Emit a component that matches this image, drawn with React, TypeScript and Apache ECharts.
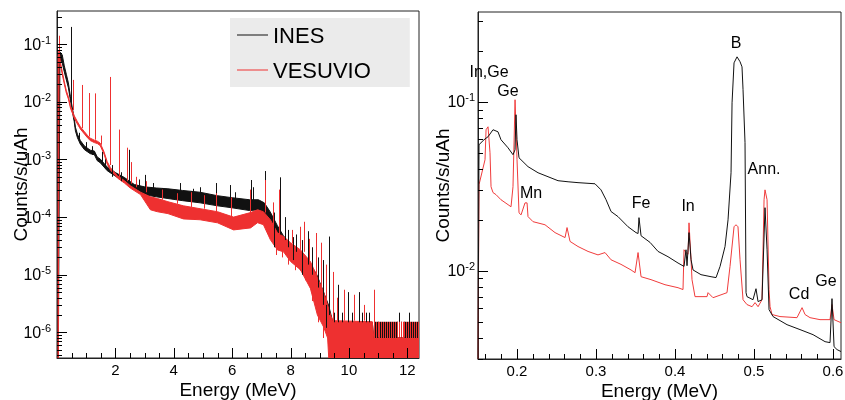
import React, { useEffect, useRef } from "react";
import * as echarts from "echarts";

const FONT = '"Liberation Sans", Arial, Helvetica, sans-serif';
const BLACK = "#111111";
const RED = "#ee3030";
const RED_THIN = "#f03c3c";

// ---------------- Left panel (0 - 12.4 MeV): noisy spectra as envelope bands + spikes
const inesBandE = [0.04, 0.1, 0.18, 0.25, 0.32, 0.39, 0.46, 0.52, 0.59, 0.63, 0.7, 0.8, 0.94, 1.14, 1.28, 1.38, 1.48, 1.72, 2.0, 2.31, 2.65, 3.0, 3.4, 3.8, 4.3, 4.9, 5.5, 6.0, 6.6, 6.9, 7.1, 7.3, 7.55, 7.75, 8.0, 8.3, 8.6, 8.9, 9.1, 9.3, 9.45, 10.8, 10.85, 12.4];
const inesBandHi = [0.05, 0.073, 0.065, 0.042, 0.03, 0.0213, 0.0123, 0.0081, 0.00522, 0.00364, 0.00275, 0.00213, 0.00171, 0.00145, 0.0014, 0.0011, 0.00102, 0.000738, 0.000593, 0.000486, 0.000367, 0.000335, 0.00032, 0.00031, 0.00029, 0.00027, 0.000235, 0.000217, 0.0002, 0.0002, 0.000177, 0.000124, 7.1e-5, 4.8e-5, 3.3e-5, 2.5e-5, 1.8e-5, 1e-5, 5.5e-6, 3e-6, 1.5e-6, 1.5e-6, 8e-7, 8e-7];
const inesBandLo = [1e-7, 0.053, 0.047, 0.033, 0.024, 0.0175, 0.01066, 0.00702, 0.00452, 0.00315, 0.00239, 0.00184, 0.00148, 0.00126, 0.00121, 0.00095, 0.00088, 0.000639, 0.000514, 0.000421, 0.000318, 0.000244, 0.000225, 0.00021, 0.000193, 0.000177, 0.000157, 0.000145, 0.00013, 0.000134, 0.000117, 7.1e-5, 4.4e-5, 3e-5, 2e-5, 1.3e-5, 8.2e-6, 3e-6, 1.66e-6, 1.1e-6, 1e-7, 1e-7, 1e-7, 1e-7];

const vesBandE = [0.04, 0.07, 0.113, 0.18, 0.25, 0.32, 0.39, 0.46, 0.59, 0.7, 0.8, 0.94, 1.04, 1.14, 1.28, 1.38, 1.48, 1.61, 1.72, 1.83, 2.07, 2.31, 2.51, 2.86, 3.2, 3.44, 3.8, 4.33, 4.9, 5.5, 6.05, 6.63, 6.87, 7.07, 7.31, 7.55, 7.76, 8.0, 8.34, 8.68, 8.92, 9.13, 9.27, 9.37, 9.45, 10.8, 10.85, 12.4];
const vesBandHi = [0.06, 0.079, 0.0495, 0.0333, 0.0223, 0.0156, 0.0123, 0.00857, 0.00575, 0.00452, 0.0037, 0.00303, 0.00263, 0.00234, 0.00216, 0.00208, 0.00192, 0.00136, 0.000916, 0.000721, 0.000523, 0.000429, 0.000351, 0.000271, 0.000225, 0.00021, 0.000185, 0.000157, 0.00014, 0.000124, 0.0001, 0.00012, 0.000134, 0.000124, 9e-5, 5.35e-5, 4.6e-5, 3.6e-5, 2.7e-5, 1.7e-5, 9e-6, 5e-6, 3e-6, 2e-6, 1.6e-6, 1.53e-6, 8.1e-7, 8.1e-7];
const vesBandLo = [1e-7, 0.053, 0.045, 0.0302, 0.0203, 0.0142, 0.0112, 0.00779, 0.00522, 0.00411, 0.00337, 0.00276, 0.00239, 0.00213, 0.00196, 0.00189, 0.00174, 0.00124, 0.000832, 0.000655, 0.000476, 0.00039, 0.000319, 0.000246, 0.000134, 0.000124, 0.000115, 9.3e-5, 9e-5, 7.96e-5, 6e-5, 6.5e-5, 8e-5, 7.4e-5, 4.05e-5, 2.7e-5, 2.5e-5, 1.7e-5, 1.22e-5, 5.8e-6, 2e-6, 1.25e-6, 8e-7, 1e-7, 1e-7, 1e-7, 1e-7, 1e-7];

// spikes / noise hairs: [energy, from, to]
const inesSpikes: [number, number, number][] = [
  [0.49, 0.009, 0.199], [0.75, 0.0021, 0.0029], [1.0, 0.0014, 0.002], [1.2, 0.0012, 0.0017], [1.55, 0.0009, 0.00135],
  [1.65, 0.0007, 0.001], [1.9, 0.0005, 0.0008], [2.2, 0.00042, 0.0006], [2.48, 0.00038, 0.00147], [2.8, 0.0003, 0.00045],
  [3.03, 0.00028, 0.00054], [3.3, 0.00025, 0.00039], [3.6, 0.00024, 0.00032], [4.23, 0.00022, 0.00039], [4.67, 0.0002, 0.00031],
  [4.91, 0.0002, 0.00033], [5.43, 0.00018, 0.00039], [5.94, 0.00016, 0.00036], [6.1, 0.00015, 0.00027],
  [6.63, 0.00014, 0.00044], [6.73, 0.00014, 0.00033], [7.14, 0.00012, 0.00063], [7.45, 3e-5, 0.00012], [7.65, 5e-5, 0.00049],
  [7.8, 4e-5, 0.0001], [7.9, 2e-5, 6e-5], [8.1, 1.8e-5, 4.5e-5], [8.2, 2.5e-5, 5e-5], [8.4, 1e-5, 4e-5], [8.6, 1.5e-5, 5.7e-5],
  [8.75, 6e-6, 3e-5], [8.95, 2.5e-6, 2e-5], [9.1, 3e-6, 1.8e-5], [9.2, 1.2e-6, 8e-6], [9.3, 2e-6, 4.6e-5],
  [9.5, 1.5e-6, 2.2e-6], [9.64, 1.5e-6, 6.7e-6], [9.75, 1.5e-6, 2.2e-6], [9.98, 1.5e-6, 5e-6], [10.1, 1.5e-6, 2.2e-6],
  [10.33, 1.5e-6, 5e-6], [10.45, 1.5e-6, 2.2e-6], [10.6, 1.5e-6, 2.2e-6], [10.7, 1.5e-6, 2.2e-6],
  [10.89, 8e-7, 1.53e-6], [10.95, 8e-7, 1.53e-6], [11.01, 8e-7, 1.53e-6], [11.07, 8e-7, 1.53e-6], [11.13, 8e-7, 1.53e-6],
  [11.2, 8e-7, 1.53e-6], [11.26, 8e-7, 1.53e-6], [11.33, 8e-7, 1.53e-6], [11.4, 8e-7, 1.53e-6], [11.46, 8e-7, 1.53e-6],
  [11.53, 8e-7, 1.53e-6], [11.6, 8e-7, 1.53e-6], [11.66, 8e-7, 1.53e-6], [11.73, 8e-7, 2.2e-6], [11.8, 8e-7, 1.53e-6],
  [11.87, 8e-7, 1.53e-6], [11.93, 8e-7, 1.53e-6], [12.0, 8e-7, 1.53e-6], [12.07, 8e-7, 2.2e-6], [12.14, 8e-7, 1.53e-6],
  [12.2, 8e-7, 1.53e-6], [12.27, 8e-7, 1.53e-6], [12.34, 8e-7, 1.53e-6],
];
const vesSpikes: [number, number, number][] = [
  [0.06, 0.06, 0.14], [0.56, 0.0072, 0.024], [0.87, 0.0035, 0.0196], [1.11, 0.0025, 0.0142], [1.31, 0.0022, 0.014],
  [1.52, 0.0018, 0.0026], [1.8, 0.0008, 0.027], [2.14, 0.0005, 0.0033], [2.41, 0.00042, 0.0016], [2.55, 0.00038, 0.0009],
  [2.7, 0.00033, 0.0005], [3.05, 0.00027, 0.00042], [3.6, 0.0002, 0.0003], [4.1, 0.00017, 0.00026], [4.6, 0.00015, 0.00027],
  [5.05, 0.00014, 0.00024], [5.45, 0.00012, 0.00026], [5.95, 0.0001, 0.00022], [6.6, 0.00011, 0.0003], [7.12, 0.00012, 0.00044],
  [7.4, 7e-5, 0.00018], [7.5, 2.2e-5, 5e-5], [7.62, 5e-5, 0.0003], [7.7, 2e-5, 4e-5], [7.9, 1.5e-5, 3e-5], [8.05, 3.5e-5, 6e-5],
  [8.15, 1.2e-5, 3e-5], [8.34, 2.7e-5, 6.8e-5], [8.45, 2.5e-5, 8.3e-5], [8.5, 8e-6, 2e-5], [8.62, 1.8e-5, 4.2e-5],
  [8.75, 3.5e-6, 1e-5], [8.86, 1e-5, 5.3e-5], [8.95, 1.5e-6, 6e-6], [9.03, 6e-6, 3.6e-5], [9.1, 8e-7, 3e-6],
  [9.2, 3e-6, 1.5e-5], [9.45, 1.6e-6, 1.12e-5],
  [9.6, 1.6e-6, 4e-6], [9.82, 1.6e-6, 5.5e-6], [10.18, 1.6e-6, 4.5e-6], [10.5, 1.6e-6, 3e-6], [10.85, 8e-7, 5.5e-6],
  [10.92, 8.1e-7, 1.53e-6], [10.98, 8.1e-7, 1.53e-6], [11.04, 8.1e-7, 1.53e-6], [11.1, 8.1e-7, 1.53e-6], [11.17, 8.1e-7, 1.53e-6],
  [11.23, 8.1e-7, 1.53e-6], [11.3, 8.1e-7, 1.53e-6], [11.36, 8.1e-7, 1.53e-6], [11.43, 8.1e-7, 1.53e-6], [11.5, 8.1e-7, 1.53e-6],
  [11.57, 8.1e-7, 1.53e-6], [11.63, 8.1e-7, 1.53e-6], [11.7, 8.1e-7, 1.53e-6], [11.77, 8.1e-7, 1.53e-6], [11.84, 8.1e-7, 1.53e-6],
  [11.9, 8.1e-7, 1.53e-6], [11.97, 8.1e-7, 1.53e-6], [12.04, 8.1e-7, 1.53e-6], [12.1, 8.1e-7, 1.53e-6], [12.17, 8.1e-7, 1.53e-6],
  [12.24, 8.1e-7, 1.53e-6], [12.3, 8.1e-7, 1.53e-6], [12.37, 8.1e-7, 1.53e-6],
];

// ---------------- Right panel (0.15 - 0.61 MeV)
const inesZoom: [number, number][] = [
  [0.1506, 0.003], [0.1519, 0.0557], [0.1582, 0.0596], [0.1633, 0.0621], [0.1696, 0.0683], [0.1759, 0.0664],
  [0.1797, 0.0596], [0.1886, 0.0534], [0.1949, 0.0486], [0.1975, 0.052], [0.1987, 0.0838], [0.2, 0.0596],
  [0.2025, 0.0466], [0.2139, 0.0413], [0.2266, 0.038], [0.2392, 0.036], [0.2519, 0.0341], [0.2646, 0.0336],
  [0.2772, 0.0332], [0.2987, 0.0327], [0.3063, 0.0301], [0.3127, 0.0263], [0.319, 0.0224], [0.3278, 0.0209],
  [0.3405, 0.0182], [0.3506, 0.0168], [0.3532, 0.0166], [0.3544, 0.0206], [0.357, 0.0161], [0.3684, 0.0147],
  [0.3785, 0.013], [0.3911, 0.0121], [0.4038, 0.0111], [0.4114, 0.0106], [0.4139, 0.0133], [0.4152, 0.0107],
  [0.4177, 0.0168], [0.4203, 0.0116], [0.4228, 0.0101], [0.4329, 0.00947], [0.4456, 0.00921], [0.4519, 0.0091],
  [0.457, 0.0106], [0.4633, 0.0139], [0.4671, 0.02], [0.4709, 0.038], [0.4722, 0.0986], [0.4747, 0.17],
  [0.4785, 0.1845], [0.4823, 0.1726], [0.4848, 0.161], [0.4861, 0.1178], [0.4886, 0.0572], [0.4899, 0.00741],
  [0.4911, 0.00702], [0.4987, 0.00673], [0.5025, 0.00782], [0.5051, 0.00656], [0.5101, 0.00673], [0.5139, 0.0236],
  [0.5165, 0.0133], [0.519, 0.00588], [0.5241, 0.00535], [0.5418, 0.00479], [0.5582, 0.00448], [0.5747, 0.00418],
  [0.5899, 0.0038], [0.5962, 0.00375], [0.5987, 0.00683], [0.6013, 0.00355], [0.6051, 0.00341], [0.6101, 0.00332],
];
const vesZoom: [number, number][] = [
  [0.1506, 0.003], [0.1519, 0.0323], [0.1595, 0.0454], [0.1608, 0.0683], [0.1633, 0.0711], [0.1658, 0.0499],
  [0.1671, 0.0314], [0.1696, 0.029], [0.1734, 0.0282], [0.1797, 0.0263], [0.1886, 0.0246], [0.1924, 0.0239],
  [0.1949, 0.0314], [0.1975, 0.1028], [0.2, 0.0454], [0.2025, 0.022], [0.2051, 0.0214], [0.2101, 0.0252],
  [0.2127, 0.0252], [0.2139, 0.0209], [0.2203, 0.0195], [0.2354, 0.0187], [0.2481, 0.0168], [0.2608, 0.0157],
  [0.2633, 0.018], [0.2671, 0.0149], [0.2772, 0.0139], [0.2899, 0.013], [0.3025, 0.0124], [0.3114, 0.0128],
  [0.319, 0.0116], [0.3316, 0.0109], [0.3443, 0.0101], [0.3494, 0.00973], [0.3532, 0.0128], [0.357, 0.00921],
  [0.3696, 0.00885], [0.3873, 0.00826], [0.4038, 0.00793], [0.4101, 0.00773], [0.4114, 0.0133], [0.4139, 0.0128],
  [0.4165, 0.0125], [0.4177, 0.0192], [0.4203, 0.0116], [0.4215, 0.00885], [0.4253, 0.00702], [0.4405, 0.00702],
  [0.4418, 0.00741], [0.4481, 0.00692], [0.4658, 0.00741], [0.4696, 0.0106], [0.4747, 0.0182], [0.4772, 0.0187],
  [0.4797, 0.0182], [0.4823, 0.0116], [0.4861, 0.00673], [0.4911, 0.0063], [0.4975, 0.00612], [0.5013, 0.00647],
  [0.5051, 0.00612], [0.5101, 0.00673], [0.5127, 0.0263], [0.5139, 0.0301], [0.5165, 0.0263], [0.519, 0.00773],
  [0.5203, 0.00612], [0.5228, 0.0055], [0.5329, 0.00535], [0.5544, 0.00527], [0.5608, 0.00604], [0.5646, 0.0055],
  [0.5709, 0.00527], [0.5835, 0.00513], [0.5962, 0.00513], [0.5987, 0.0063], [0.6013, 0.00513], [0.6101, 0.00492],
];

const annotLabels = ["In,Ge", "Ge", "Mn", "Fe", "In", "B", "Ann.", "Cd", "Ge"];
const annotE = [0.1646, 0.1886, 0.2177, 0.357, 0.4165, 0.4772, 0.5127, 0.557, 0.5911];
const annotV = [0.152, 0.116, 0.029, 0.0252, 0.0243, 0.2234, 0.0402, 0.00731, 0.00873];

// ---------------- Axes ticks / labels
const leftXTicks = [2, 4, 6, 8, 10, 12];
const leftXMinor = [0.5, 1, 1.5, 2.5, 3, 3.5, 4.5, 5, 5.5, 6.5, 7, 7.5, 8.5, 9, 9.5, 10.5, 11, 11.5];
const leftYDecades = [1e-6, 1e-5, 1e-4, 1e-3, 1e-2, 1e-1];
const rightXTicks = [0.2, 0.3, 0.4, 0.5, 0.6];
const rightXMinor = [0.16, 0.18, 0.22, 0.24, 0.26, 0.28, 0.32, 0.34, 0.36, 0.38, 0.42, 0.44, 0.46, 0.48, 0.52, 0.54, 0.56, 0.58];
const rightYDecades = [1e-2, 1e-1];
const minorMultipliers = [2, 3, 4, 5, 6, 7, 8, 9];

const LEFT_X = [0, 12.4];
const LEFT_Y = [3.6e-7, 0.376];
const RIGHT_X = [0.1506, 0.6101];
const RIGHT_Y = [0.003, 0.34];

function logMinor(decades: number[], lo: number, hi: number) {
  const base = [decades[0] / 10, ...decades];
  const out: number[] = [];
  base.forEach((d) => minorMultipliers.forEach((m) => {
    const v = m * d;
    if (v >= lo && v <= hi) out.push(v);
  }));
  return out;
}

const powLabel = (v: number) => `{b|10}{s|${Math.round(Math.log10(v))}}`;
const powRich = {
  b: { fontSize: 16, lineHeight: 20, color: "#000", fontFamily: FONT },
  s: { fontSize: 11, lineHeight: 11, verticalAlign: "top", color: "#000", fontFamily: FONT },
};

const axisColor = "#222";
const TICK_COLOR = "#000000";

function bandSeries(name: string, xs: number[], hi: number[], lo: number[], color: string, gi: number) {
  return {
    type: "custom", name, xAxisIndex: gi, yAxisIndex: gi, clip: true, silent: true,
    data: [[xs[1], hi[1]]], encode: { x: 0, y: 1 },
    renderItem: (_p: any, api: any) => {
      const top = xs.map((e, i) => api.coord([e, hi[i]]));
      const bot = xs.map((e, i) => api.coord([e, lo[i]])).reverse();
      return {
        type: "polygon",
        shape: { points: top.concat(bot) },
        style: { fill: color, stroke: color, lineWidth: 1 },
      };
    },
  };
}

function spikeSeries(name: string, data: [number, number, number][], color: string, gi: number) {
  return {
    type: "custom", name, xAxisIndex: gi, yAxisIndex: gi, clip: true, silent: true,
    data, encode: { x: 0, y: [1, 2] },
    renderItem: (_p: any, api: any) => {
      const a = api.coord([api.value(0), api.value(1)]);
      const b = api.coord([api.value(0), api.value(2)]);
      const x = Math.round(a[0]) + 0.5;
      return { type: "line", shape: { x1: x, y1: a[1], x2: x, y2: b[1] }, style: { stroke: color, lineWidth: 1 } };
    },
  };
}

// inward ticks of one frame drawn as thin rects (one item), placed through the axes' own scales
function frameTicks(name: string, gi: number, xr: number[], yr: number[], xMaj: number[], xMin: number[], yMaj: number[], yMin: number[]) {
  const midX = (xr[0] + xr[1]) / 2;
  const midY = Math.sqrt(yr[0] * yr[1]);
  return {
    type: "custom", name, xAxisIndex: gi, yAxisIndex: gi, clip: false, silent: true, z: 20,
    data: [[midX, midY]], encode: { x: 0, y: 1 },
    renderItem: (_p: any, api: any) => {
      const children: any[] = [];
      const addX = (v: number, len: number) => {
        const p = api.coord([v, yr[0]]);
        const x = Math.round(p[0]);
        children.push({ type: "rect", shape: { x: x, y: p[1] - len, width: 1, height: len }, style: { fill: TICK_COLOR } });
      };
      const addY = (v: number, len: number) => {
        const p = api.coord([xr[0], v]);
        const y = Math.round(p[1]);
        children.push({ type: "rect", shape: { x: p[0], y: y, width: len, height: 1 }, style: { fill: TICK_COLOR } });
      };
      xMaj.forEach((v) => addX(v, 10));
      xMin.forEach((v) => addX(v, 5));
      yMaj.forEach((v) => addY(v, 10));
      yMin.forEach((v) => addY(v, 5));
      return { type: "group", children };
    },
  };
}

function xAxisDef(grid: number, range: number[], ticks: number[]) {
  return {
    gridIndex: grid, type: "value", min: range[0], max: range[1], position: "bottom",
    axisLine: { show: true, onZero: false, lineStyle: { color: axisColor, width: 1 } },
    axisTick: { show: false },
    axisLabel: { show: true, customValues: ticks, fontSize: 15, color: "#000", margin: 4, fontFamily: FONT },
    splitLine: { show: false },
    name: "Energy (MeV)", nameLocation: "middle", nameGap: 22, nameMoveOverlap: false,
    nameTextStyle: { fontSize: 19, color: "#000", fontFamily: FONT },
  };
}
function yAxisDef(grid: number, range: number[], ticks: number[], margin: number, gap: number) {
  return {
    gridIndex: grid, type: "log", logBase: 10, min: range[0], max: range[1], position: "left",
    axisLine: { show: true, lineStyle: { color: axisColor, width: 1 } },
    axisTick: { show: false },
    axisLabel: { show: true, customValues: ticks, formatter: powLabel, rich: powRich, margin },
    splitLine: { show: false },
    name: "Counts/s/uAh", nameLocation: "middle", nameGap: gap, nameMoveOverlap: false,
    nameTextStyle: { fontSize: 19, color: "#000", fontFamily: FONT },
  };
}

export default function App() {
  const ref = useRef<HTMLDivElement>(null);
  useEffect(() => {
    if (!ref.current) return;
    const chart = echarts.init(ref.current, undefined, { renderer: "svg" });
    const gridBase = { show: true, borderColor: axisColor, borderWidth: 1, containLabel: false, outerBoundsMode: "none" };
    const option: any = {
      animation: false,
      textStyle: { fontFamily: FONT },
      grid: [
        { ...gridBase, left: 57, top: 11, width: 362, height: 347 },
        { ...gridBase, left: 478, top: 12, width: 363, height: 347 },
      ],
      xAxis: [xAxisDef(0, LEFT_X, leftXTicks), xAxisDef(1, RIGHT_X, rightXTicks)],
      yAxis: [yAxisDef(0, LEFT_Y, leftYDecades, 6, 27), yAxisDef(1, RIGHT_Y, rightYDecades, 3, 26)],
      legend: {
        left: 230, top: 18, orient: "vertical",
        padding: [6, 39, 6, 7], itemGap: 13, itemWidth: 31, itemHeight: 1,
        backgroundColor: "#ebebeb", selectedMode: false,
        textStyle: { fontSize: 22, lineHeight: 22, color: "#000", fontFamily: FONT },
        data: [
          { name: "INES", icon: "rect", itemStyle: { color: BLACK } },
          { name: "VESUVIO", icon: "rect", itemStyle: { color: RED } },
        ],
      },
      series: [
        bandSeries("INES", inesBandE, inesBandHi, inesBandLo, BLACK, 0),
        bandSeries("VESUVIO", vesBandE, vesBandHi, vesBandLo, RED, 0),
        spikeSeries("INES", inesSpikes, BLACK, 0),
        spikeSeries("VESUVIO", vesSpikes, RED, 0),
        {
          type: "line", name: "VESUVIO", xAxisIndex: 1, yAxisIndex: 1, data: vesZoom,
          showSymbol: false, symbol: "none", silent: true,
          lineStyle: { color: RED_THIN, width: 1 }, itemStyle: { color: RED_THIN },
        },
        {
          type: "line", name: "INES", xAxisIndex: 1, yAxisIndex: 1, data: inesZoom,
          showSymbol: false, symbol: "none", silent: true,
          lineStyle: { color: BLACK, width: 1 }, itemStyle: { color: BLACK },
        },
        {
          type: "custom", name: "peaks", xAxisIndex: 1, yAxisIndex: 1, silent: true, clip: false,
          data: annotLabels.map((_n, i) => [annotE[i], annotV[i], i]),
          encode: { x: 0, y: 1 },
          renderItem: (_p: any, api: any) => {
            const p = api.coord([api.value(0), api.value(1)]);
            return {
              type: "text", x: p[0], y: p[1],
              style: {
                text: annotLabels[api.value(2)], fill: "#000", fontSize: 16, fontFamily: FONT,
                align: "center", verticalAlign: "middle",
              },
            };
          },
        },
        frameTicks("ticksL", 0, LEFT_X, LEFT_Y, leftXTicks, leftXMinor, leftYDecades, logMinor(leftYDecades, LEFT_Y[0], LEFT_Y[1])),
        frameTicks("ticksR", 1, RIGHT_X, RIGHT_Y, rightXTicks, rightXMinor, rightYDecades, logMinor(rightYDecades, RIGHT_Y[0], RIGHT_Y[1])),
      ],
    };
    chart.setOption(option);
    return () => chart.dispose();
  }, []);
  return <div ref={ref} style={{ position: "fixed", left: 0, top: 0, width: 845, height: 400 }} />;
}
